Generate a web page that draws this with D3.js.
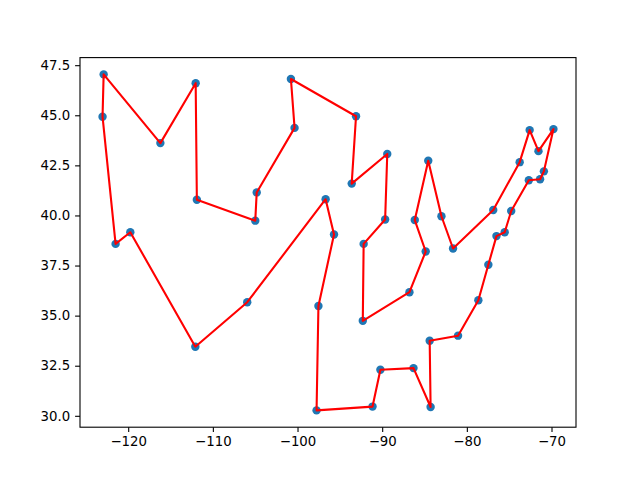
<!DOCTYPE html>
<html>
<head>
<meta charset="utf-8">
<script src="https://cdn.jsdelivr.net/npm/d3@7"></script>
<style>
  body { margin: 0; background: #fff; }
  svg text { font-family: "DejaVu Sans", sans-serif; font-size: 13.3px; fill: #000; }
</style>
</head>
<body>
<svg id="chart" width="640" height="480"></svg>
<script>
// route order (closed tour), longitude / latitude
const lons = [-123.03, -122.90, -116.20, -112.03, -111.89, -104.99, -104.82, -100.35, -100.78, -93.09,
  -93.60, -89.40, -89.65, -92.19, -92.29, -86.78, -84.86, -86.15, -84.56, -83.00,
  -81.63, -76.88, -73.76, -72.58, -71.54, -69.77, -70.90, -71.35, -72.68, -74.76,
  -75.53, -76.50, -77.46, -78.64, -81.04, -84.39, -84.28, -86.30, -90.21, -91.14,
  -97.75, -97.53, -95.69, -96.68, -105.94, -112.07, -119.75, -121.49];
const lats = [44.93, 47.04, 43.61, 46.60, 40.78, 39.74, 41.15, 44.37, 46.81, 44.95,
  41.59, 43.07, 39.80, 38.58, 34.74, 36.17, 38.20, 39.77, 42.73, 39.96,
  38.35, 40.27, 42.66, 44.26, 43.21, 44.31, 42.20, 41.81, 41.76, 40.22,
  39.16, 38.97, 37.54, 35.77, 34.00, 33.75, 30.44, 32.38, 32.30, 30.46,
  30.27, 35.48, 39.05, 40.81, 35.67, 33.45, 39.16, 38.58];
const xTicks = [-120, -110, -100, -90, -80, -70];
const yTicks = [30.0, 32.5, 35.0, 37.5, 40.0, 42.5, 45.0, 47.5];

const svg = d3.select("#chart");
const margin = { left: 80, right: 64, top: 57.6, bottom: 52.8 };
const width = 640 - margin.left - margin.right;
const height = 480 - margin.top - margin.bottom;

const points = lons.map((x, i) => ({ x, y: lats[i] }));

function padded(ext) {
  const span = ext[1] - ext[0];
  return [ext[0] - span * 0.05, ext[1] + span * 0.05];
}
const x = d3.scaleLinear().domain(padded(d3.extent(lons))).range([0, width]);
const y = d3.scaleLinear().domain(padded(d3.extent(lats))).range([height, 0]);

const g = svg.append("g").attr("transform", `translate(${margin.left},${margin.top})`);

g.selectAll("circle")
  .data(points)
  .enter()
  .append("circle")
  .attr("cx", d => x(d.x))
  .attr("cy", d => y(d.y))
  .attr("r", 4.2)
  .attr("fill", "#1f77b4");

const line = d3.line().x(d => x(d.x)).y(d => y(d.y));
g.append("path")
  .datum(points.concat([points[0]]))
  .attr("d", line)
  .attr("fill", "none")
  .attr("stroke", "red")
  .attr("stroke-width", 2.1)
  .attr("stroke-linejoin", "round");

const xAxis = g.append("g")
  .attr("transform", `translate(0,${height})`)
  .call(d3.axisBottom(x).tickValues(xTicks).tickFormat(d => d.toString().replace("-", "\u2212")).tickSize(4.9).tickPadding(4.9));
const yAxis = g.append("g")
  .call(d3.axisLeft(y).tickValues(yTicks).tickFormat(d3.format(".1f")).tickSize(4.9).tickPadding(4.9));

[xAxis, yAxis].forEach(a => {
  a.select(".domain").remove();
  a.selectAll("line").attr("stroke", "#000").attr("stroke-width", 1.1);
  a.selectAll("text").attr("font-family", "DejaVu Sans").attr("font-size", 13.3);
});

g.append("rect")
  .attr("width", width)
  .attr("height", height)
  .attr("fill", "none")
  .attr("stroke", "#000")
  .attr("stroke-width", 1.1);
</script>
</body>
</html>
